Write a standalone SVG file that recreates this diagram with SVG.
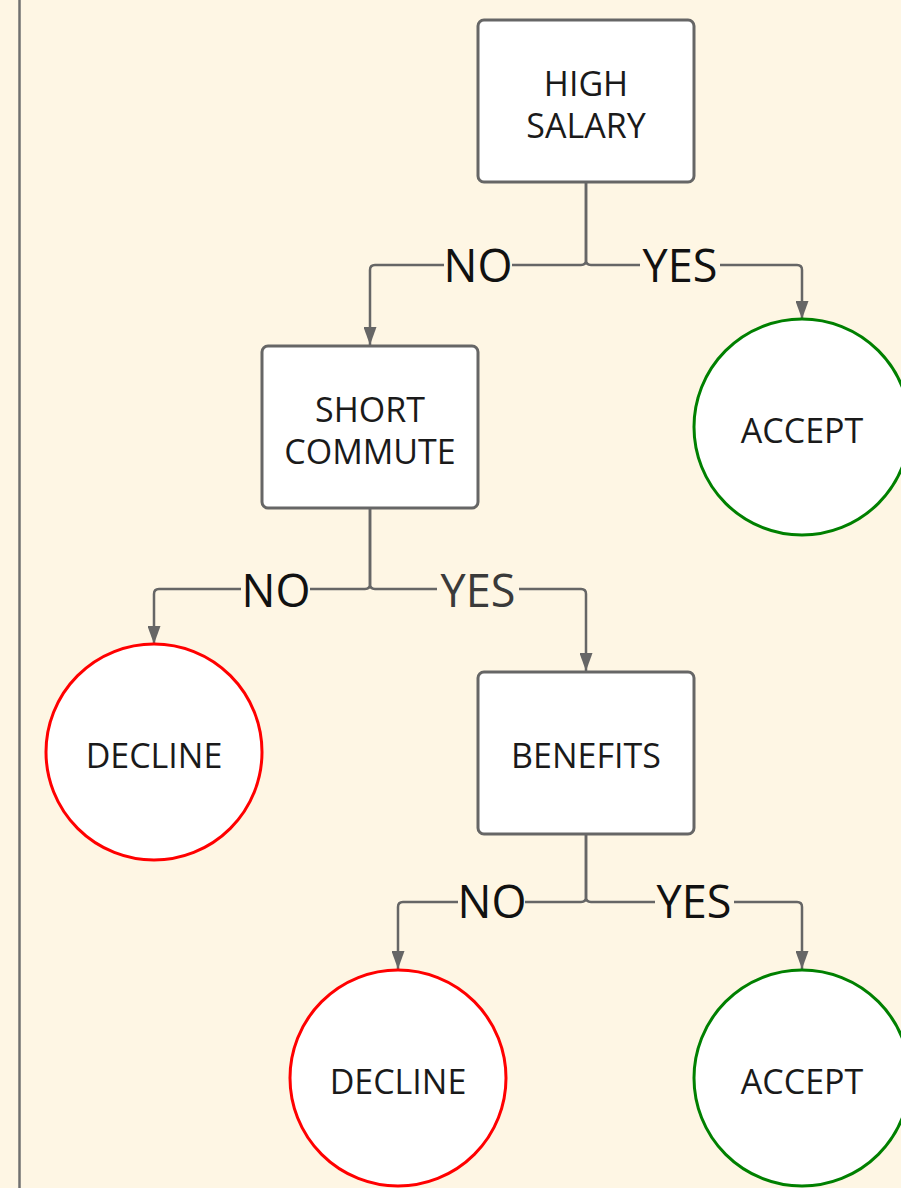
<svg xmlns="http://www.w3.org/2000/svg" width="901" height="1188" viewBox="0 0 901 1188">
<defs>
<marker id="arr" viewBox="0 0 18 13" refX="18" refY="6.5" markerWidth="18" markerHeight="13" markerUnits="userSpaceOnUse" orient="auto">
<path d="M0,0 L18,6.5 L0,13 Z" fill="#666666"/>
</marker>
</defs>
<style>
.box{fill:#ffffff;stroke:#666666;stroke-width:3}
.yes{fill:#ffffff;stroke:#008000;stroke-width:3}
.no{fill:#ffffff;stroke:#ff0000;stroke-width:3}
.t{font-family:"Open Sans","Noto Sans",sans-serif;font-size:34px;fill:#1a1a1a;text-anchor:middle}
.lbl{font-family:"Open Sans","Noto Sans",sans-serif;font-size:45px;fill:#111111;text-anchor:middle}
.c{fill:none;stroke:#666666;stroke-width:2.5}
.mask{fill:#fef6e4}
</style>
<rect x="0" y="0" width="901" height="1188" fill="#fef6e4"/>
<line x1="19.5" y1="0" x2="19.5" y2="1188" stroke="#707070" stroke-width="2.5"/>
<g id="connectors">
<path class="c" d="M586,182 V260 Q586,265 581,265 H375 Q370,265 370,270 V345" marker-end="url(#arr)"/>
<path class="c" d="M586,182 V260 Q586,265 591,265 H797 Q802,265 802,270 V319" marker-end="url(#arr)"/>
<path class="c" d="M370,508 V584 Q370,589 365,589 H159 Q154,589 154,594 V644" marker-end="url(#arr)"/>
<path class="c" d="M370,508 V584 Q370,589 375,589 H581 Q586,589 586,594 V671" marker-end="url(#arr)"/>
<path class="c" d="M586,834 V897 Q586,902 581,902 H403 Q398,902 398,907 V969" marker-end="url(#arr)"/>
<path class="c" d="M586,834 V897 Q586,902 591,902 H797 Q802,902 802,907 V969" marker-end="url(#arr)"/>
<rect class="mask" x="444" y="250" width="68" height="32"/>
<rect class="mask" x="640" y="250" width="80" height="32"/>
<rect class="mask" x="241" y="574" width="69" height="32"/>
<rect class="mask" x="437" y="574" width="82" height="32"/>
<rect class="mask" x="458" y="887" width="67" height="32"/>
<rect class="mask" x="655" y="887" width="79" height="32"/>
<text class="lbl" x="478" y="282">NO</text>
<text class="lbl" x="680" y="282">YES</text>
<text class="lbl" x="276" y="607">NO</text>
<text class="lbl" x="478" y="607" style="fill:#3a3a3a">YES</text>
<text class="lbl" x="492" y="918">NO</text>
<text class="lbl" x="694" y="918">YES</text>
</g>
<g id="high-salary">
<rect class="box" x="478" y="20" width="216" height="162" rx="6"/>
<text class="t" x="586" y="96">HIGH</text>
<text class="t" x="586" y="138">SALARY</text>
</g>
<g id="accept-1">
<circle class="yes" cx="802" cy="427" r="108"/>
<text class="t" x="802" y="443">ACCEPT</text>
</g>
<g id="short-commute">
<rect class="box" x="262" y="346" width="216" height="162" rx="6"/>
<text class="t" x="370" y="422">SHORT</text>
<text class="t" x="370" y="464">COMMUTE</text>
</g>
<g id="decline-1">
<circle class="no" cx="154" cy="752" r="108"/>
<text class="t" x="154" y="768">DECLINE</text>
</g>
<g id="benefits">
<rect class="box" x="478" y="672" width="216" height="162" rx="6"/>
<text class="t" x="586" y="768">BENEFITS</text>
</g>
<g id="decline-2">
<circle class="no" cx="398" cy="1078" r="108"/>
<text class="t" x="398" y="1094">DECLINE</text>
</g>
<g id="accept-2">
<circle class="yes" cx="802" cy="1078" r="108"/>
<text class="t" x="802" y="1094">ACCEPT</text>
</g>
</svg>
